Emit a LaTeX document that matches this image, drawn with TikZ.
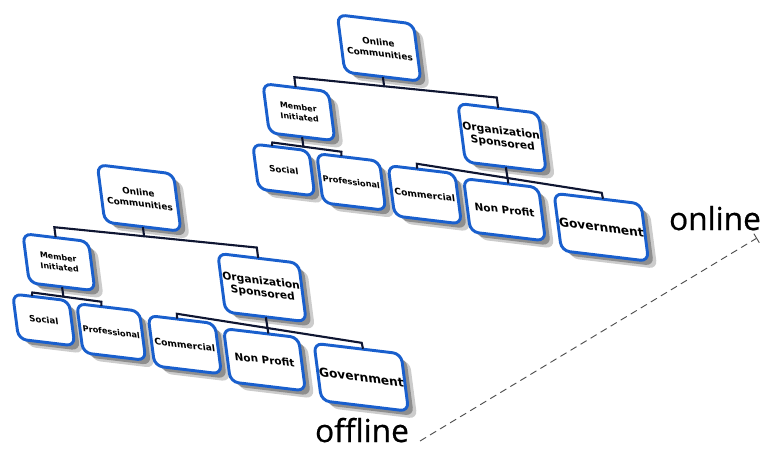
\documentclass[tikz,border=0pt]{standalone}
\usepackage{fontspec}
\setmainfont{DejaVu Sans}
\newfontfamily\labelfont[FakeBold=0.6]{Open Sans}
\usetikzlibrary{shadows,calc,arrows.meta}
\definecolor{boxblue}{RGB}{25,95,205}
\definecolor{linecol}{RGB}{15,22,50}
\definecolor{dashcol}{RGB}{80,80,80}
\tikzset{
  box/.style={draw=boxblue, line width=2.5pt, rounded corners=7pt, fill=white,
    align=center, inner sep=1pt, text=black,
    drop shadow={shadow xshift=7.5pt, shadow yshift=-6.5pt, opacity=.2, fill=black},
    drop shadow={shadow xshift=4.5pt, shadow yshift=-4pt, opacity=.3, fill=black}},
  conn/.style={draw=linecol, line width=1.8pt, line cap=rect, line join=miter},
  lbl/.style={font=\labelfont\fontsize{27}{30}\selectfont, inner sep=0pt, text=black},
}
\newcommand\mytree[3]{%
\begin{scope}[cm={1,-0.12,-0.13,1,(#2,-#3)}, transform shape]
  \node[box, minimum width=65pt, minimum height=49pt, font=\bfseries\fontsize{7.6}{10}\selectfont] (#1root) at (0,-1) {Online\\Communities};
  \node[box, minimum width=56pt, minimum height=42pt, font=\bfseries\fontsize{6.8}{8.8}\selectfont] (#1mem) at (-90,-76) {Member\\Initiated};
  \node[box, minimum width=69pt, minimum height=50pt, font=\bfseries\fontsize{9.1}{10.6}\selectfont] (#1org) at (113,-77) {Organization\\Sponsored};
  \node[box, minimum width=48pt, minimum height=38.5pt, font=\bfseries\fontsize{7.4}{9}\selectfont] (#1soc) at (-113,-136.5) {Social};
  \node[box, minimum width=53.5pt, minimum height=42pt, font=\bfseries\fontsize{7}{9}\selectfont] (#1pro) at (-46,-140.5) {Professional};
  \node[box, minimum width=57pt, minimum height=43pt, font=\bfseries\fontsize{7.8}{10}\selectfont] (#1com) at (27,-144.5) {Commercial};
  \node[box, minimum width=64pt, minimum height=45.5pt, font=\bfseries\fontsize{8.9}{11}\selectfont] (#1np) at (106,-150) {Non Profit};
  \node[box, minimum width=70pt, minimum height=49pt, font=\bfseries\fontsize{10.4}{12}\selectfont] (#1gov) at (202,-156) {Government};
  \coordinate (#1mb) at (-90,-41);
  \coordinate (#1rb) at (0,-39);
  \coordinate (#1ob) at (113,-37);
  \coordinate (#1ms) at (-90,-110);
  \coordinate (#1sl) at (-121,-110);
  \coordinate (#1pr) at (-52,-111);
  \coordinate (#1cl) at (23,-114);
  \coordinate (#1gr) at (207,-121);
  \draw[conn] (#1root.south) -- (#1rb);
  \draw[conn] (#1mem.north) -- (#1mb) -- (#1ob) -- (#1org.north);
  \draw[conn] (#1mem.south) -- (#1ms);
  \draw[conn] ($(#1soc.north west)!0.355!(#1soc.north east)$) -- (#1sl) -- (#1pr) -- ($(#1pro.north west)!0.40!(#1pro.north east)$);
  \draw[conn] (#1org.south) -- ($(#1np.north west)!0.595!(#1np.north east)$);
  \draw[conn] ($(#1com.north west)!0.438!(#1com.north east)$) -- (#1cl) -- (#1gr) -- ($(#1gov.north west)!0.56!(#1gov.north east)$);
\end{scope}}
\begin{document}
\begin{tikzpicture}[x=0.03cm, y=0.03cm]
  \fill[white] (0,0) rectangle (765,-449);
  \useasboundingbox (0,0) rectangle (765,-449);
  \mytree{t}{379}{47}
  \mytree{b}{139}{197}
  \node[lbl, anchor=base] (online) at (715,-230) {online};
  \node[lbl, anchor=base] (offline) at (362,-442) {offline};
  \coordinate (dstart) at (420,-441);
  \coordinate (dend) at (757,-238);
  \draw[dashcol, line width=0.8pt, dash pattern=on 6pt off 4pt, -{Bar[width=9pt, line width=0.8pt]}] (dstart) -- (dend);
\end{tikzpicture}
\end{document}
